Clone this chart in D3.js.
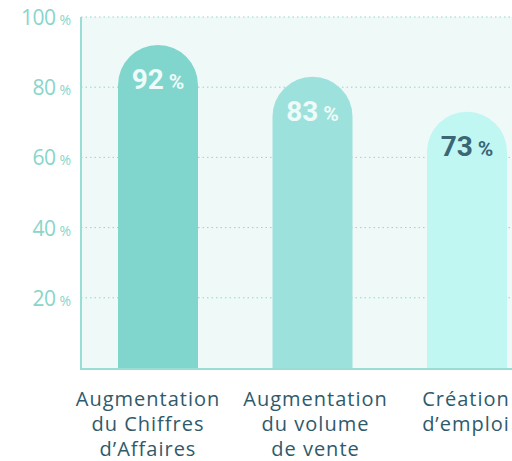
<!DOCTYPE html>
<html>
<head>
<meta charset="utf-8">
<script src="https://cdn.jsdelivr.net/npm/d3@7"></script>
<style>
  body { margin: 0; background: #fff; }
  svg { display: block; }
</style>
</head>
<body>
<svg id="chart" width="512" height="461"></svg>
<script>
const categories = [
  ["Augmentation", "du Chiffres", "d\u2019Affaires"],
  ["Augmentation", "du volume", "de vente"],
  ["Cr\u00e9ation", "d\u2019emploi"]
];
const values = [92, 83, 73];
const yTicks = [20, 40, 60, 80, 100];
const barColors = ["#80d5cd", "#9de1dc", "#c0f7f3"];
const valueColors = ["#effbf9", "#effbf9", "#3a6676"];

const svg = d3.select("#chart");
const plotLeft = 81, plotTop = 17, plotBottom = 368, plotRight = 512;

const y = d3.scaleLinear().domain([0, 100]).range([plotBottom, plotTop]);
const x = d3.scalePoint().domain(d3.range(values.length)).range([158, 467]);
const barW = 80, r = barW / 2;

// plot background
svg.append("rect")
  .attr("x", plotLeft).attr("y", plotTop)
  .attr("width", plotRight - plotLeft).attr("height", plotBottom - plotTop)
  .attr("fill", "#eff9f8");

// grid lines
svg.append("g").selectAll("line").data(yTicks).join("line")
  .attr("x1", plotLeft).attr("x2", plotRight)
  .attr("y1", d => y(d)).attr("y2", d => y(d))
  .attr("stroke", "#8fd6ce").attr("stroke-width", 1)
  .attr("stroke-dasharray", "1.5,3");

// y tick labels
const tl = svg.append("g").selectAll("text").data(yTicks).join("text")
  .attr("x", 71).attr("y", d => y(d) + 8)
  .attr("text-anchor", "end")
  .attr("fill", "#88d5cc")
  .style("font-family", "'Open Sans', sans-serif")
  .style("font-weight", 400);
tl.append("tspan").attr("font-size", 21).attr("letter-spacing", -0.5).text(d => d);
tl.append("tspan").attr("font-size", 14).attr("dx", 4).text("%");

// bars: rounded top
svg.append("g").selectAll("path").data(values).join("path")
  .attr("d", (d, i) => {
    const x0 = x(i) - r, x1 = x(i) + r, yt = y(d);
    return `M${x0},${plotBottom}V${yt + r}A${r},${r} 0 0 1 ${x1},${yt + r}V${plotBottom}Z`;
  })
  .attr("fill", (d, i) => barColors[i]);

// value labels
const vl = svg.append("g").selectAll("text").data(values).join("text")
  .attr("x", (d, i) => x(i))
  .attr("y", d => y(d) + 44)
  .attr("text-anchor", "middle")
  .attr("fill", (d, i) => valueColors[i])
  .style("font-family", "Roboto, sans-serif")
  .style("font-weight", 700);
vl.append("tspan").attr("font-size", 28).text(d => d);
vl.append("tspan").attr("font-size", 21).attr("dx", 5).text("%");

// axes lines
svg.append("line")
  .attr("x1", plotLeft).attr("x2", plotLeft).attr("y1", plotTop).attr("y2", plotBottom + 1)
  .attr("stroke", "#98ded7").attr("stroke-width", 2);
svg.append("line")
  .attr("x1", plotLeft - 1).attr("x2", plotRight).attr("y1", plotBottom + 1).attr("y2", plotBottom + 1)
  .attr("stroke", "#98ded7").attr("stroke-width", 2);

// category labels
const cl = svg.append("g").selectAll("text").data(categories).join("text")
  .attr("text-anchor", "middle")
  .attr("fill", "#2f5a6b")
  .attr("font-size", 20)
  .attr("letter-spacing", 1)
  .style("font-family", "'Open Sans', sans-serif");
cl.each(function (lines, i) {
  d3.select(this).selectAll("tspan").data(lines).join("tspan")
    .attr("x", i === 2 ? x(i) - 1 : x(i) - (i === 0 ? 10 : -3))
    .attr("y", (d, j) => 406 + j * 25)
    .text(d => d);
});
</script>
</body>
</html>
